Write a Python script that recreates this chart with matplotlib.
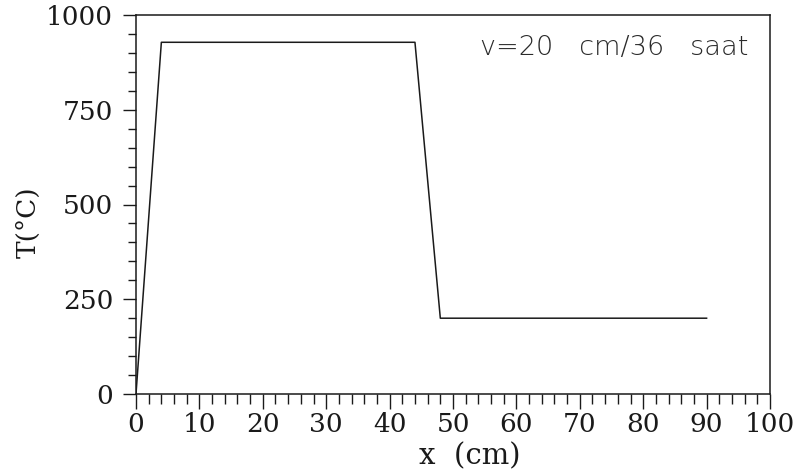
import matplotlib
matplotlib.use("Agg")
import matplotlib.pyplot as plt
from matplotlib.ticker import MultipleLocator

x_cm = [0, 4, 44, 48, 90]
temp_c = [0, 928, 928, 200, 200]
x_ticks = [0, 10, 20, 30, 40, 50, 60, 70, 80, 90, 100]
y_ticks = [0, 250, 500, 750, 1000]
note = "v=20   cm/36   saat"

plt.rcParams['font.family'] = ['DejaVu Serif']
plt.rcParams['axes.unicode_minus'] = False

fig = plt.figure(figsize=(8.05, 4.74), dpi=100)
ax = fig.add_axes([136/805, 1-394/474, (770-136)/805, (394-15)/474])
ax.plot(x_cm, temp_c, color='#1a1a1a', lw=1.1)
ax.set_xlim(0, 100)
ax.set_ylim(0, 1000)
ax.set_xticks(x_ticks)
ax.set_yticks(y_ticks)
ax.xaxis.set_minor_locator(MultipleLocator(2))
ax.yaxis.set_minor_locator(MultipleLocator(50))
ax.tick_params(which='both', direction='out', width=1.0, colors='#1a1a1a', labelsize=19)
ax.tick_params(axis='x', which='major', length=11, pad=2)
ax.tick_params(axis='x', which='minor', length=7)
ax.tick_params(axis='y', which='major', length=9.5, pad=7)
ax.tick_params(axis='y', which='minor', length=6)
for s in ax.spines.values():
    s.set_linewidth(1.1)
    s.set_color('#1a1a1a')
ax.set_xlabel('x  (cm)', fontsize=21, color='#1a1a1a')
ax.set_ylabel('T(°C)', fontsize=19, color='#1a1a1a')
ax.xaxis.set_label_coords(0.527, -0.128)
ax.yaxis.set_label_coords(-0.151, 0.454)
ax.text(54.3, 915, note, fontsize=19.5, family='DejaVu Sans', va='center', ha='left',
        color='#2a2a2a', fontweight='light')
fig.savefig('out.png', dpi=100)
